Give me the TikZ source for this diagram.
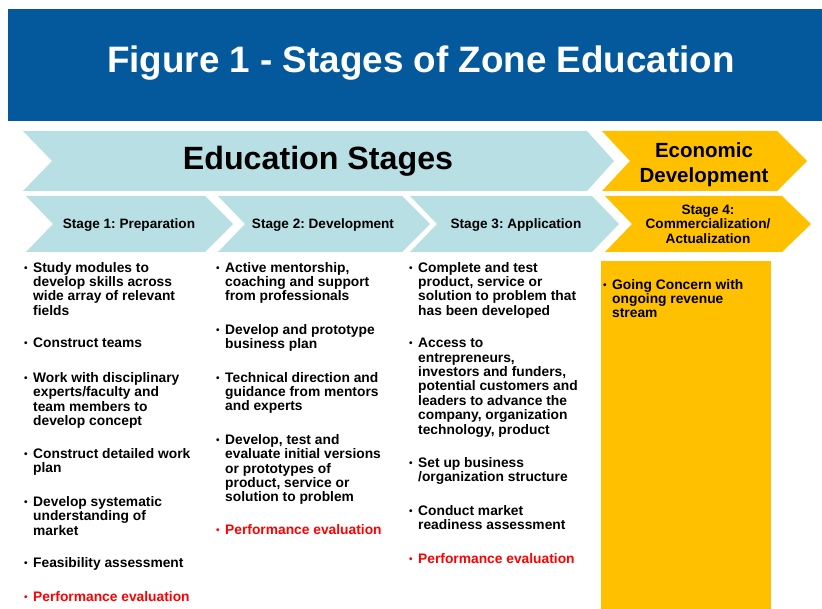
\documentclass[tikz,border=0pt]{standalone}
\usepackage{fontspec}
\setmainfont{Liberation Sans}
\frenchspacing

\definecolor{titleblue}{RGB}{3,89,156}
\definecolor{stageblue}{RGB}{184,223,227}
\definecolor{econorange}{RGB}{255,192,0}
\definecolor{perfred}{RGB}{255,0,0}

\tikzset{
  edu/.style = {fill=stageblue},
  econ/.style = {fill=econorange},
  stagelabel/.style = {align=center, font=\bfseries\fontsize{13.6}{14.4}\selectfont},
  item/.style = {anchor=north west, inner sep=0pt, align=left, font=\bfseries\fontsize{13.8}{14.4}\selectfont},
  perf/.style = {item, text=perfred}
}
\newcommand{\bul}{\llap{\raisebox{1pt}{\fontsize{10}{10}\selectfont\textbullet}\hspace{5.5pt}}}

\begin{document}
\begin{tikzpicture}[x=1pt, y=-1pt]
\useasboundingbox (0,0) rectangle (822,609);

\fill [titleblue] (8,9) rectangle (822,121);
\node (Title) at (421,63) [text=white, font=\bfseries\fontsize{36.8}{42}\selectfont] {Figure 1 - Stages of Zone Education};

\fill [edu] (23,131) -- (587,131) -- (614,161) -- (587,191) -- (23,191) -- (52,161) -- cycle;
\fill [econ] (602,131) -- (777,131) -- (807,161) -- (777,191) -- (602,191) -- (630,161) -- cycle;

\fill [edu] (26,196) -- (205,196) -- (233,224) -- (205,252) -- (26,252) -- (53,224) -- cycle;
\fill [edu] (218,196) -- (402,196) -- (430,224) -- (402,252) -- (218,252) -- (245,224) -- cycle;
\fill [edu] (410,196) -- (592,196) -- (619,224) -- (592,252) -- (410,252) -- (437,224) -- cycle;
\fill [econ] (605,196) -- (782,196) -- (811,224) -- (782,252) -- (605,252) -- (632,224) -- cycle;

\fill [econ] (601,261) rectangle (771,609);

\node (Education Stages) at (318,161) [font=\bfseries\fontsize{32.2}{36}\selectfont] {Education Stages};

\node (Economic Development) at (704,165) [align=center, font=\bfseries\fontsize{20.5}{25}\selectfont] {Economic\\Development};

\node (Stage 1) at (129,225) [stagelabel] {Stage 1: Preparation};
\node (Stage 2) at (323,225) [stagelabel] {Stage 2: Development};
\node (Stage 3) at (516,225) [stagelabel] {Stage 3: Application};
\node (Stage 4) at (708,224) [stagelabel] {Stage 4:\\Commercialization/\\Actualization};

% stage 1
\node (Study modules) at (33,262) [item] {\bul Study modules to\\develop skills across\\wide array of relevant\\fields};
\node (Construct teams) at (33,338) [item] {\bul Construct teams};
\node (Work with) at (33,372) [item] {\bul Work with disciplinary\\experts/faculty and\\team members to\\develop concept};
\node (Work plan) at (33,448) [item] {\bul Construct detailed work\\plan};
\node (Understanding) at (33,496) [item] {\bul Develop systematic\\understanding of\\market};
\node (Feasibility) at (33,557) [item] {\bul Feasibility assessment};
\node (Performance 1) at (33,591) [perf] {\bul Performance evaluation};

% stage 2
\node (Mentorship) at (225,262) [item] {\bul Active mentorship,\\coaching and support\\from professionals};
\node (Business plan) at (225,324) [item] {\bul Develop and prototype\\business plan};
\node (Direction) at (225,372) [item] {\bul Technical direction and\\guidance from mentors\\and experts};
\node (Prototypes) at (225,434) [item] {\bul Develop, test and\\evaluate initial versions\\or prototypes of\\product, service or\\solution to problem};
\node (Performance 2) at (225,524) [perf] {\bul Performance evaluation};

% stage 3
\node (Complete) at (418,262) [item] {\bul Complete and test\\product, service or\\solution to problem that\\has been developed};
\node (Access) at (418,338) [item] {\bul Access to\\entrepreneurs,\\investors and funders,\\potential customers and\\leaders to advance the\\company, organization\\technology, product};
\node (Set up) at (418,457) [item] {\bul Set up business\\/organization structure};
\node (Readiness) at (418,505) [item] {\bul Conduct market\\readiness assessment};
\node (Performance 3) at (418,553) [perf] {\bul Performance evaluation};

% stage 4
\node (Going Concern) at (612,279) [item] {\bul Going Concern with\\ongoing revenue\\stream};
\end{tikzpicture}
\end{document}
